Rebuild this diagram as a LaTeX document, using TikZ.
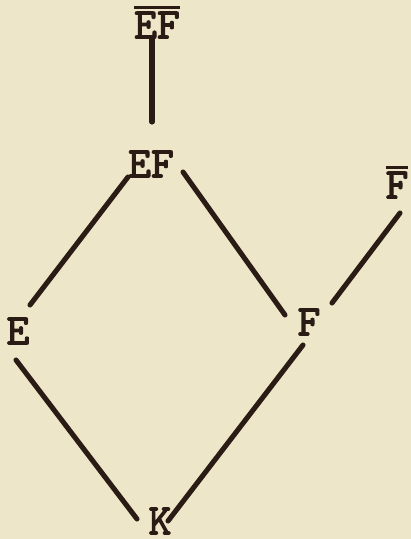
\documentclass[tikz,border=0pt]{standalone}
\usepackage{fontspec}
\usepackage{xcolor}
\usepackage{tikz}
\usetikzlibrary{positioning, calc}

\newfontfamily\fieldfont[FakeBold=2.5]{lmmono10-regular.otf}
\definecolor{paper}{HTML}{EEE6C8}
\definecolor{ink}{HTML}{2A1C14}
\newcommand\barred[1]{\vbox{\hrule height 2.6pt\kern1.8pt\hbox{#1}}}

\begin{document}
\begin{tikzpicture}[
    x=0.025cm, y=-0.025cm,
    lbl/.style={text=ink, inner sep=0pt, font=\fontsize{31}{33}\selectfont\fieldfont},
    edge/.style={draw=ink, line width=3.6pt, line cap=round}
]
    % Background
    \fill[paper] (0,0) rectangle (411,539);
    \useasboundingbox (0,0) rectangle (411,539);

    % Fields
    \node[lbl] (efbar) at (157,22) {\barred{EF}};
    \node[lbl] (ef) at (151,164) {EF};
    \node[lbl] (fbar) at (397,182) {\barred{F}};
    \node[lbl] (e) at (18,331) {E};
    \node[lbl] (f) at (309,322) {F};
    \node[lbl] (k) at (160,521) {K};

    % Line ends
    \coordinate (efbarS) at ($(efbar)+(-5,16)$);
    \coordinate (efN) at ($(ef)+(1,-42)$);
    \coordinate (efSW) at ($(ef)+(-23,13)$);
    \coordinate (efE) at ($(ef)+(32,8)$);
    \coordinate (eNE) at ($(e)+(12,-26)$);
    \coordinate (eS) at ($(e)+(-2,29)$);
    \coordinate (fNW) at ($(f)+(-24,-7)$);
    \coordinate (fNE) at ($(f)+(23,-19)$);
    \coordinate (fS) at ($(f)+(-6,23)$);
    \coordinate (fbarS) at ($(fbar)+(3,31)$);
    \coordinate (kNW) at ($(k)+(-23,-2)$);
    \coordinate (kNE) at ($(k)+(8,0)$);

    % Inclusions
    \draw[edge] (efbarS) -- (efN);
    \draw[edge] (efSW) -- (eNE);
    \draw[edge] (efE) -- (fNW);
    \draw[edge] (fNE) -- (fbarS);
    \draw[edge] (eS) -- (kNW);
    \draw[edge] (fS) -- (kNE);
\end{tikzpicture}
\end{document}
